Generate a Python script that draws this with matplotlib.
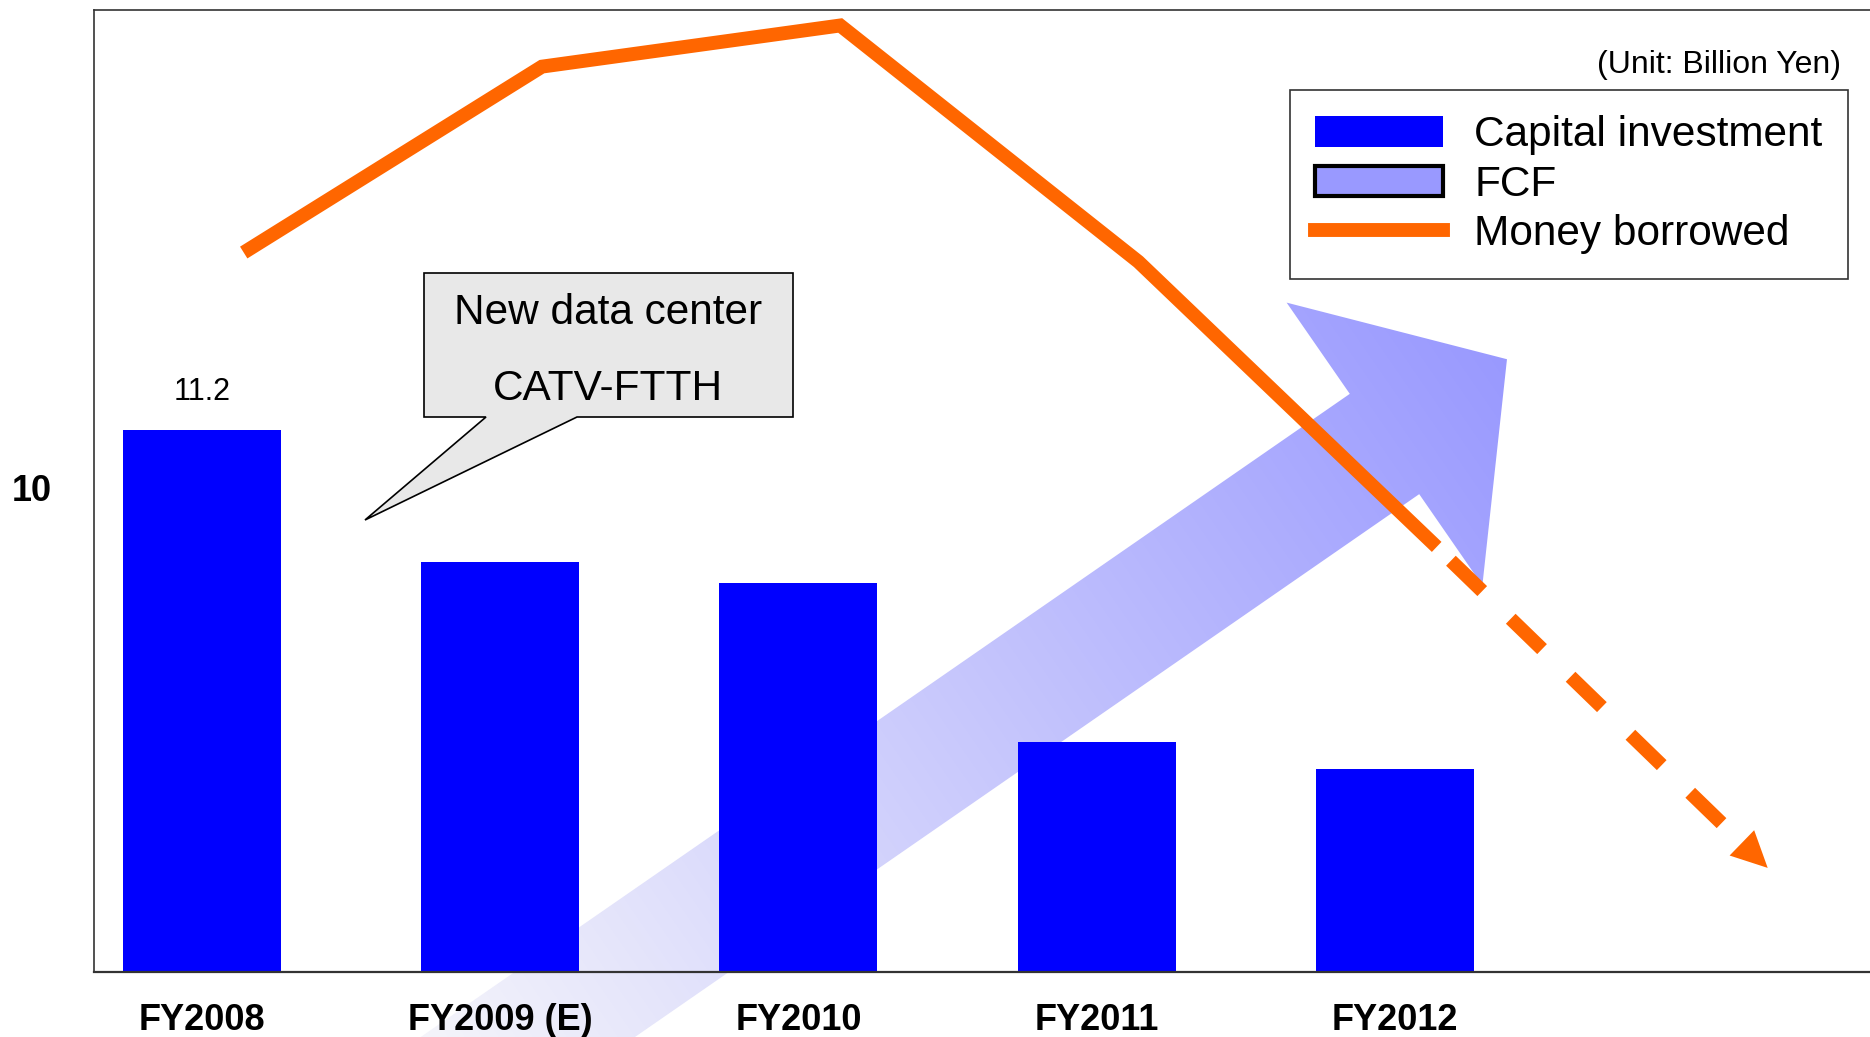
import numpy as np
import matplotlib.pyplot as plt
from matplotlib.patches import Polygon, Patch
from matplotlib.lines import Line2D

plt.rcParams['font.family'] = ['Liberation Sans', 'DejaVu Sans']

# Data (billion yen)
years = ['FY2008', 'FY2009 (E)', 'FY2010', 'FY2011', 'FY2012']
capex = [11.2, 8.47, 8.04, 4.75, 4.19]
borrowed = [14.86, 18.7, 19.55, 14.67, 8.78]
# outlook for borrowings after FY2012 (dashed arrow end)
outlook_x = 5.25
outlook_y = 2.15

BLUE = '#0000FF'
ORANGE = '#FF6600'
FCF_COLOR = '#9999FF'

W, H = 1870, 1037
fig = plt.figure(figsize=(W / 100, H / 100), dpi=100)
fig.patch.set_facecolor('white')

# background layer in pixel units for the decorative FCF arrow and the callout
bg = fig.add_axes([0, 0, 1, 1])
bg.set_zorder(0)

# big FCF arrow with a light-to-lavender gradient
mid = np.array([1384.5, 444.0])
d = np.array([0.822, -0.569])
n = np.array([0.569, 0.822])
shaft_hw, head_hw, head_len, tail_len = 61, 172, 149, 1250
pts = [
    mid - tail_len * d - shaft_hw * n,
    mid - shaft_hw * n,
    mid - head_hw * n,
    mid + head_len * d,
    mid + head_hw * n,
    mid + shaft_hw * n,
    mid - tail_len * d + shaft_hw * n,
]
yy, xx = np.mgrid[0:H:2, 0:W:2]
t = (xx - mid[0]) * d[0] + (yy - mid[1]) * d[1]
frac = np.clip((t + 1150) / (1150 + head_len), 0, 1)
c0 = np.array([246, 246, 250]) / 255
c1 = np.array([153, 153, 255]) / 255
img = c0 + frac[..., None] * (c1 - c0)
im = bg.imshow(img, extent=(0, W, H, 0), interpolation='bilinear', aspect='auto', zorder=1)
arrow_shape = Polygon(pts, closed=True, fc='none', ec='none', transform=bg.transData)
bg.add_patch(arrow_shape)
im.set_clip_path(arrow_shape)

# callout box
callout = Polygon([(424, 273), (793, 273), (793, 417), (577, 417), (365, 520),
                   (486, 417), (424, 417)], closed=True,
                  fc='#E8E8E8', ec='black', lw=1.2, zorder=2)
bg.add_patch(callout)
bg.text(608, 324, 'New data center', fontsize=30.5, ha='center', va='baseline')
bg.text(608, 400, 'CATV-FTTH', fontsize=30.5, ha='center', va='baseline')
bg.text(1841, 73, '(Unit: Billion Yen)', fontsize=23, ha='right', va='baseline')

bg.set_xlim(0, W)
bg.set_ylim(H, 0)
bg.axis('off')

# main chart
ax = fig.add_axes([94 / W, (H - 972) / H, (W - 94) / W, (972 - 9.5) / H])
ax.set_zorder(1)
ax.patch.set_alpha(0)

x = np.arange(len(years))
bars = ax.bar(x, capex, width=0.53, color=BLUE, zorder=2)
ax.annotate(f'{capex[0]}', (x[0], capex[0]), xytext=(0, 21.6),
            textcoords='offset points', ha='center', va='baseline', fontsize=22)

x_line = x + 0.14
ax.plot(x_line, borrowed, color=ORANGE, lw=10, solid_joinstyle='miter',
        solid_capstyle='butt', zorder=3)

ax.set_xlim(-0.362, 5.593)
ax.set_ylim(0, 19.88)

# dashed outlook line ending in an arrow head
p0 = ax.transData.transform((x_line[-1], borrowed[-1]))
p1 = ax.transData.transform((outlook_x, outlook_y))
seg = np.hypot(*(p1 - p0))
base = ax.transData.inverted().transform(p1 - (p1 - p0) * 36 / seg)
ax.plot([x_line[-1], base[0]], [borrowed[-1], base[1]], color=ORANGE, lw=10,
        linestyle=(4.57, (3.14, 2.86)), dash_capstyle='butt', zorder=3)
ax.annotate('', xy=(outlook_x, outlook_y), xytext=base,
            arrowprops=dict(arrowstyle='-|>,head_length=25.9,head_width=12.7',
                            mutation_scale=1, fc=ORANGE, ec='none', lw=0,
                            shrinkA=0, shrinkB=0), zorder=3)

ax.set_xticks(x, years, fontsize=26, fontweight='bold')
ax.set_yticks([10], ['10'], fontsize=26, fontweight='bold')
ax.tick_params(axis='x', length=0, pad=22)
ax.tick_params(axis='y', length=0, pad=30)

for side in ['left', 'top', 'bottom']:
    ax.spines[side].set_color('#333333')
    ax.spines[side].set_linewidth(1.2)
ax.spines['bottom'].set_linewidth(1.6)
ax.spines['right'].set_visible(False)

handles = [bars, Patch(fc=FCF_COLOR, ec='black', lw=3),
           Line2D([], [], color=ORANGE, lw=10)]
leg = ax.legend(handles, ['Capital investment', 'FCF', 'Money borrowed'],
                loc='upper right', bbox_to_anchor=(1848 / W, 1 - 90 / H),
                bbox_transform=fig.transFigure, fontsize=30.5, frameon=True,
                fancybox=False, edgecolor='#333333', framealpha=1,
                borderaxespad=0, borderpad=0.6, handlelength=3.0,
                handleheight=0.74, handletextpad=0.75, labelspacing=0.22)
leg.get_frame().set_linewidth(1.2)

plt.savefig('out.png', dpi=100)
